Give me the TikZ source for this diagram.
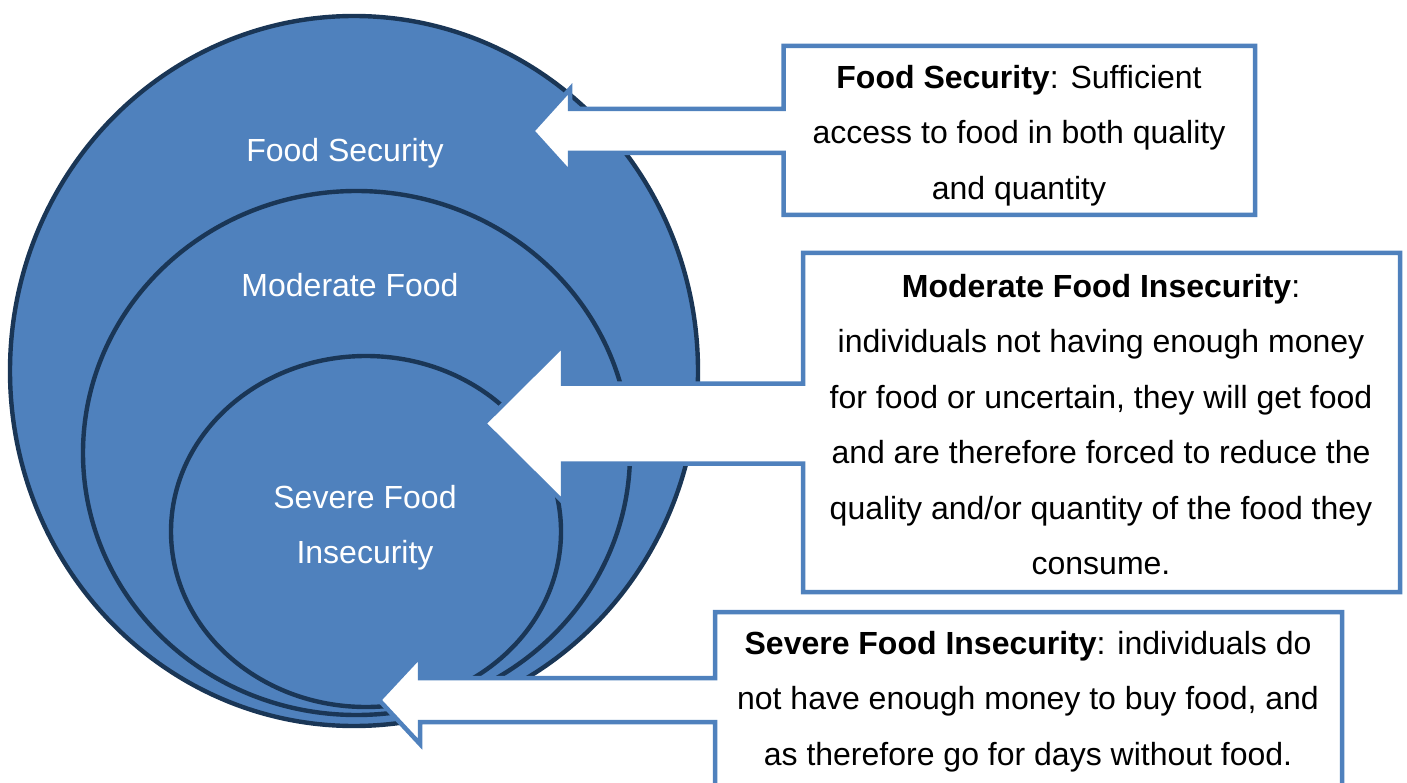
\documentclass[tikz,border=0pt]{standalone}
\usepackage{fontspec}
\setmainfont{Liberation Sans}
\definecolor{ringfill}{HTML}{4F81BD}
\definecolor{ringline}{HTML}{1A3656}
\definecolor{boxline}{HTML}{4F81BD}

\begin{document}
\begin{tikzpicture}[x=1pt,y=-1pt,
  ring/.style={fill=ringfill, draw=ringline, line width=4.4pt},
  callout/.style={fill=white, draw=boxline, line width=4.5pt, line join=miter},
  ringlabel/.style={text=white, font=\fontsize{32}{55.5}\selectfont, align=center, inner sep=0pt},
  boxtext/.style={text=black, font=\fontsize{32}{55.5}\selectfont, align=center, inner sep=0pt}]
\path[use as bounding box] (0,0) rectangle (1407,783);
\clip (0,0) rectangle (1407,783);

% nested levels of food (in)security
\draw[ring] (354,371) ellipse [x radius=344pt, y radius=355pt];
\draw[ring] (356.5,453) ellipse [x radius=273.5pt, y radius=262pt];
\draw[ring] (366,531.5) ellipse [x radius=195pt, y radius=175.5pt];

\node[ringlabel] (lblsecure) at (345,153) {Food Security};
\node[ringlabel] (lblmoderate) at (350,285) {Moderate Food};
\node[ringlabel] (lblsevere) at (365,527.5) {Severe Food\\Insecurity};

% arrow tips of the callouts
\coordinate (tipsecure) at (532,131);
\coordinate (tipmoderate) at (484,423.5);
\coordinate (tipsevere) at (379,700);

% callout boxes with left-pointing arrows
\draw[callout] (783.5,46) -- (1255,46) -- (1255,215) -- (783.5,215) -- (783.5,153)
  -- (570,153) -- (570,173) -- (tipsecure) -- (570,89) -- (570,109) -- (783.5,109) -- cycle;
\draw[callout] (803,253) -- (1400,253) -- (1400,592) -- (803,592) -- (803,463.5)
  -- (563,463.5) -- (563,502) -- (tipmoderate) -- (563,345) -- (563,383.5) -- (803,383.5) -- cycle;
\draw[callout] (715,612) -- (1342,612) -- (1342,800) -- (715,800) -- (715,722)
  -- (420,722) -- (420,744) -- (tipsevere) -- (420,656) -- (420,678) -- (715,678) -- cycle;

\node[boxtext] (txtsecure) at (1019,135.5)
  {\textbf{Food Security}: Sufficient\\access to food in both quality\\and quantity};
\node[boxtext] (txtmoderate) at (1101,424.5)
  {\textbf{Moderate Food Insecurity}:\\individuals not having enough money\\for food or uncertain, they will get food\\and are therefore forced to reduce the\\quality and/or quantity of the food they\\consume.};
\node[boxtext] (txtsevere) at (1028,701.5)
  {\textbf{Severe Food Insecurity}: individuals do\\not have enough money to buy food, and\\as therefore go for days without food.};
\end{tikzpicture}
\end{document}
